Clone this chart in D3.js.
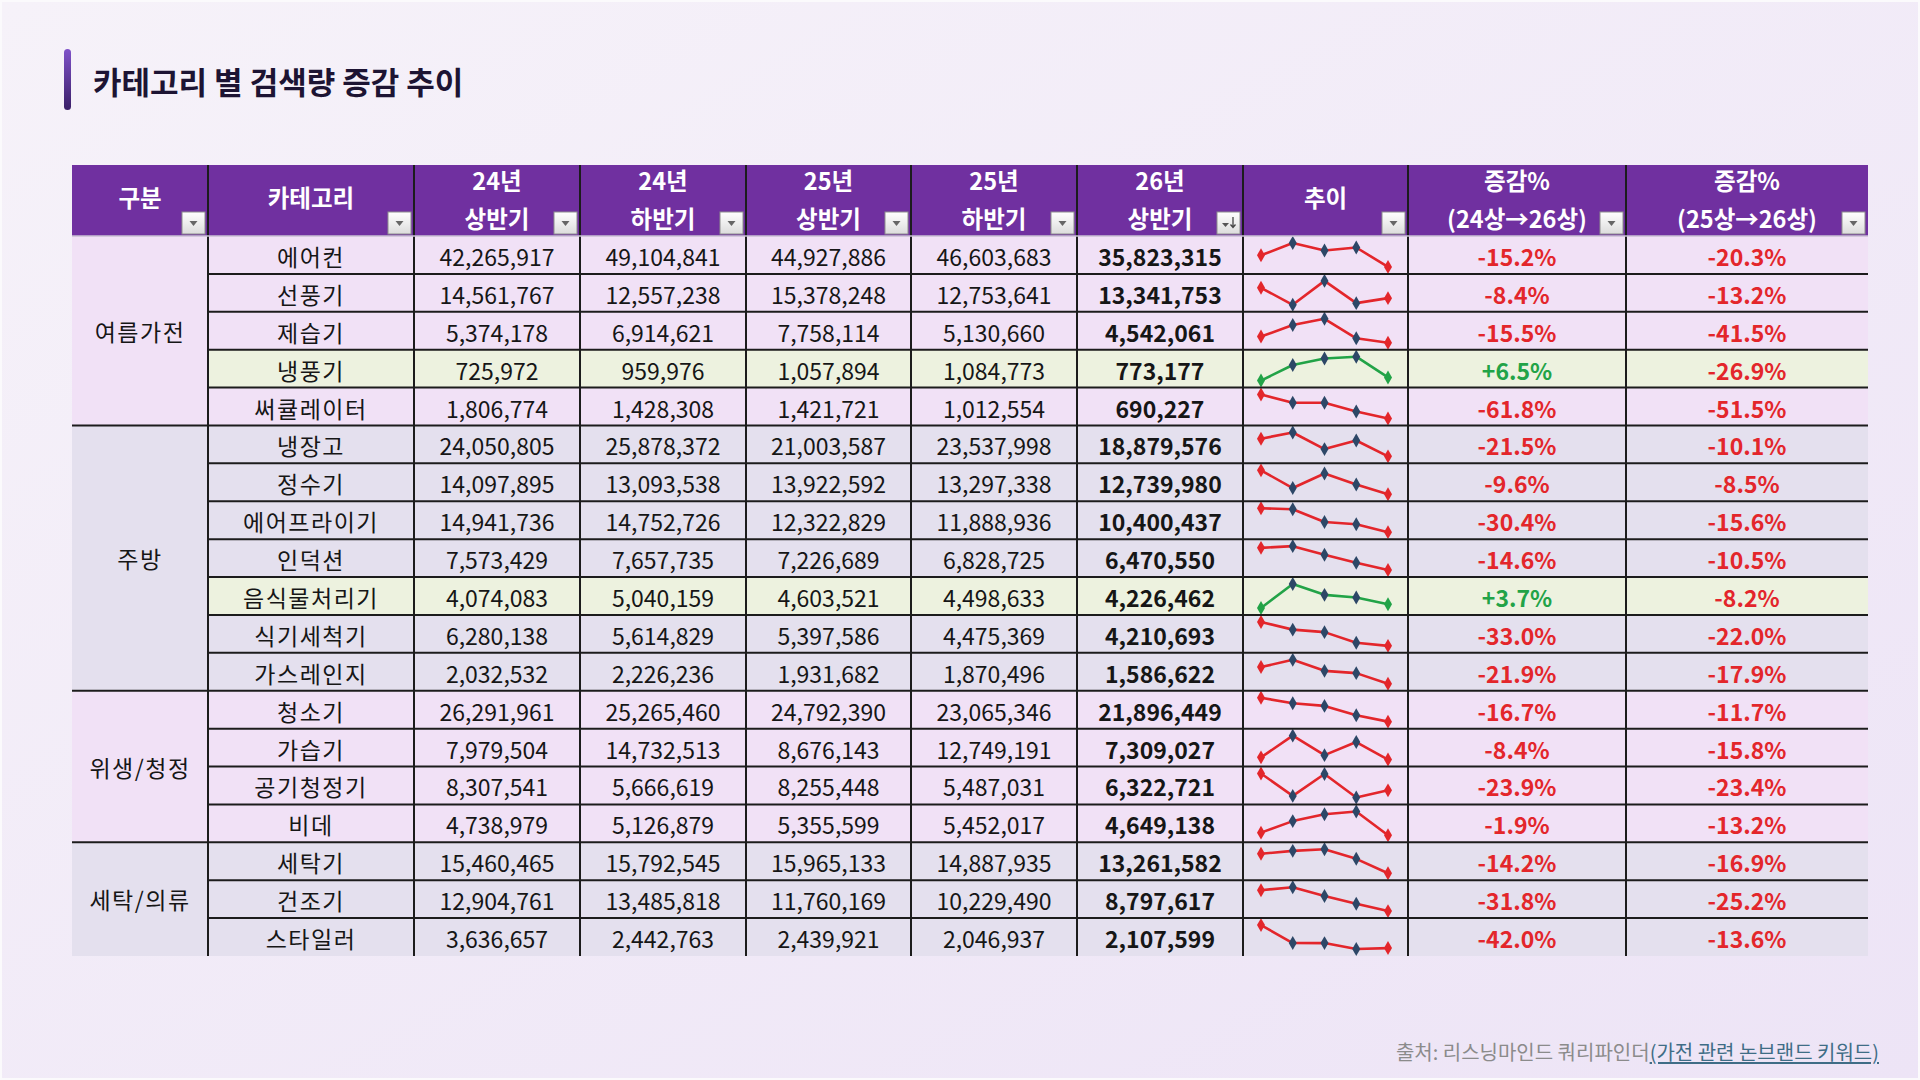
<!DOCTYPE html>
<html>
<head>
<meta charset="utf-8">
<script src="https://cdn.jsdelivr.net/npm/d3@7"></script>
<style>
  html, body { margin: 0; padding: 0; background: #f3eef8; }
  svg { display: block; font-family: "Noto Sans CJK KR", "Noto Sans", sans-serif; }
</style>
</head>
<body>
<svg id="chart" width="1920" height="1080"></svg>
<script>
// data
const groupNames = ['여름가전', '주방', '위생/청정', '세탁/의류'];
const groupOfRow = [
  '여름가전', '여름가전', '여름가전', '여름가전', '여름가전',
  '주방', '주방', '주방', '주방', '주방', '주방', '주방',
  '위생/청정', '위생/청정', '위생/청정', '위생/청정',
  '세탁/의류', '세탁/의류', '세탁/의류'
];
const categories = [
  '에어컨', '선풍기', '제습기', '냉풍기', '써큘레이터',
  '냉장고', '정수기', '에어프라이기', '인덕션', '음식물처리기', '식기세척기', '가스레인지',
  '청소기', '가습기', '공기청정기', '비데',
  '세탁기', '건조기', '스타일러'
];
const h24a = [42265917, 14561767, 5374178, 725972, 1806774, 24050805, 14097895, 14941736, 7573429, 4074083, 6280138, 2032532, 26291961, 7979504, 8307541, 4738979, 15460465, 12904761, 3636657];
const h24b = [49104841, 12557238, 6914621, 959976, 1428308, 25878372, 13093538, 14752726, 7657735, 5040159, 5614829, 2226236, 25265460, 14732513, 5666619, 5126879, 15792545, 13485818, 2442763];
const h25a = [44927886, 15378248, 7758114, 1057894, 1421721, 21003587, 13922592, 12322829, 7226689, 4603521, 5397586, 1931682, 24792390, 8676143, 8255448, 5355599, 15965133, 11760169, 2439921];
const h25b = [46603683, 12753641, 5130660, 1084773, 1012554, 23537998, 13297338, 11888936, 6828725, 4498633, 4475369, 1870496, 23065346, 12749191, 5487031, 5452017, 14887935, 10229490, 2046937];
const h26a = [35823315, 13341753, 4542061, 773177, 690227, 18879576, 12739980, 10400437, 6470550, 4226462, 4210693, 1586622, 21896449, 7309027, 6322721, 4649138, 13261582, 8797617, 2107599];
const chg24 = [-15.2, -8.4, -15.5, 6.5, -61.8, -21.5, -9.6, -30.4, -14.6, 3.7, -33.0, -21.9, -16.7, -8.4, -23.9, -1.9, -14.2, -31.8, -42.0];
const chg25 = [-20.3, -13.2, -41.5, -26.9, -51.5, -10.1, -8.5, -15.6, -10.5, -8.2, -22.0, -17.9, -11.7, -15.8, -23.4, -13.2, -16.9, -25.2, -13.6];
const headers = [
  ['구분'], ['카테고리'], ['24년', '상반기'], ['24년', '하반기'], ['25년', '상반기'],
  ['25년', '하반기'], ['26년', '상반기'], ['추이'], ['증감%', '(24상→26상)'], ['증감%', '(25상→26상)']
];
const title = '카테고리 별 검색량 증감 추이';

// layout
const colEdges = [72, 208, 414, 580, 746, 911, 1077, 1243, 1408, 1626, 1868];
const headTop = 165, headBottom = 236, bodyBottom = 956;
const fontSize = 23;
const colours = {
  head: '#7030a0', pink: '#f1e1f6', grey: '#e4e0ee', green: '#edf2df',
  line: '#1c1c1c', text: '#161616', red: '#e3262b', up: '#22a347', marker: '#2d4767'
};

const svg = d3.select('#chart');
const defs = svg.append('defs');

const bg = defs.append('linearGradient').attr('id', 'bg')
  .attr('x1', 0).attr('y1', 0).attr('x2', 1).attr('y2', 1);
bg.append('stop').attr('offset', 0).attr('stop-color', '#f6f2f9');
bg.append('stop').attr('offset', 1).attr('stop-color', '#ede4f6');

const accent = defs.append('linearGradient').attr('id', 'accent')
  .attr('x1', 0).attr('y1', 0).attr('x2', 0).attr('y2', 1);
accent.append('stop').attr('offset', 0).attr('stop-color', '#7f52c9');
accent.append('stop').attr('offset', 1).attr('stop-color', '#3a1f68');

const btn = defs.append('linearGradient').attr('id', 'btn')
  .attr('x1', 0).attr('y1', 0).attr('x2', 0).attr('y2', 1);
btn.append('stop').attr('offset', 0).attr('stop-color', '#ffffff');
btn.append('stop').attr('offset', 1).attr('stop-color', '#dcdcdc');

svg.append('rect').attr('width', 1920).attr('height', 1080).attr('fill', '#fbfafc');
svg.append('rect').attr('x', 2).attr('y', 2).attr('width', 1916).attr('height', 1076).attr('fill', 'url(#bg)');

// title
svg.append('rect').attr('x', 64).attr('y', 49).attr('width', 7).attr('height', 61)
  .attr('rx', 3.5).attr('fill', 'url(#accent)');
svg.append('text').attr('x', 93).attr('y', 80)
  .attr('dominant-baseline', 'central')
  .attr('font-size', 31).attr('font-weight', 700).attr('fill', '#1d1433')
  .text(title);

// scales
const y = d3.scaleBand().domain(d3.range(categories.length)).range([headBottom, bodyBottom]);
const colMid = i => (colEdges[i] + colEdges[i + 1]) / 2;
const groupColour = g => groupNames.indexOf(g) % 2 === 0 ? colours.pink : colours.grey;
const fmt = d3.format(',');
const fmtPct = d => (d > 0 ? '+' : '') + d.toFixed(1) + '%';

// header
const head = svg.append('g');
head.append('rect').attr('x', colEdges[0]).attr('y', headTop)
  .attr('width', colEdges[colEdges.length - 1] - colEdges[0]).attr('height', headBottom - headTop)
  .attr('fill', colours.head);

headers.forEach((lines, i) => {
  const t = head.append('text').attr('text-anchor', 'middle')
    .attr('fill', '#fff').attr('font-size', 23.5).attr('font-weight', 700);
  if (lines.length === 1) {
    t.append('tspan').attr('x', colMid(i)).attr('y', 197)
      .attr('dominant-baseline', 'central').text(lines[0]);
  } else {
    t.append('tspan').attr('x', colMid(i)).attr('y', 180)
      .attr('dominant-baseline', 'central').text(lines[0]);
    t.append('tspan').attr('x', colMid(i)).attr('y', 218)
      .attr('dominant-baseline', 'central').text(lines[1]);
  }
  // filter button
  const bx = colEdges[i + 1] - 26, by = 212;
  const b = head.append('g').attr('transform', `translate(${bx},${by})`);
  b.append('rect').attr('width', 23).attr('height', 22)
    .attr('fill', 'url(#btn)').attr('stroke', '#8e8e8e').attr('stroke-width', 1);
  if (i === 6) {
    b.append('path').attr('d', 'M5,11 L12,11 L8.5,15 Z').attr('fill', '#555');
    b.append('path').attr('d', 'M16,5 L16,15 M13.5,12.5 L16,15.5 L18.5,12.5')
      .attr('stroke', '#444').attr('stroke-width', 1.3).attr('fill', 'none');
  } else {
    b.append('path').attr('d', 'M7.5,9 L15.5,9 L11.5,14 Z').attr('fill', '#666');
  }
});

// body cells
const body = svg.append('g');
const rows = body.selectAll('g.row').data(categories).join('g').attr('class', 'row');

rows.append('rect')
  .attr('x', colEdges[1]).attr('y', (d, i) => y(i))
  .attr('width', colEdges[colEdges.length - 1] - colEdges[1]).attr('height', y.bandwidth())
  .attr('fill', (d, i) => chg24[i] > 0 ? colours.green : groupColour(groupOfRow[i]));

// group column
groupNames.forEach(g => {
  const idx = d3.range(categories.length).filter(i => groupOfRow[i] === g);
  const top = y(idx[0]), bottom = y(idx[idx.length - 1]) + y.bandwidth();
  body.append('rect').attr('x', colEdges[0]).attr('y', top)
    .attr('width', colEdges[1] - colEdges[0]).attr('height', bottom - top)
    .attr('fill', groupColour(g));
  body.append('text').attr('x', colMid(0)).attr('y', (top + bottom) / 2)
    .attr('text-anchor', 'middle').attr('dominant-baseline', 'central')
    .attr('font-size', fontSize).attr('letter-spacing', 1.5)
    .attr('fill', colours.text).text(g);
});

const cellText = (col, accessor, opts = {}) => {
  rows.append('text')
    .attr('x', colMid(col)).attr('y', (d, i) => y(i) + y.bandwidth() / 2 + 1)
    .attr('text-anchor', 'middle').attr('dominant-baseline', 'central')
    .attr('font-size', fontSize)
    .attr('font-weight', opts.bold ? 700 : 400)
    .attr('letter-spacing', opts.spacing || 0)
    .attr('fill', opts.fill || colours.text)
    .text(accessor);
};

cellText(1, d => d, { spacing: 1.5 });
[h24a, h24b, h25a, h25b].forEach((arr, k) => cellText(2 + k, (d, i) => fmt(arr[i])));
cellText(6, (d, i) => fmt(h26a[i]), { bold: true });
rows.append('text')
  .attr('x', colMid(8)).attr('y', (d, i) => y(i) + y.bandwidth() / 2 + 1)
  .attr('text-anchor', 'middle').attr('dominant-baseline', 'central')
  .attr('font-size', fontSize).attr('font-weight', 700)
  .attr('fill', (d, i) => chg24[i] > 0 ? colours.up : colours.red)
  .text((d, i) => fmtPct(chg24[i]));
rows.append('text')
  .attr('x', colMid(9)).attr('y', (d, i) => y(i) + y.bandwidth() / 2 + 1)
  .attr('text-anchor', 'middle').attr('dominant-baseline', 'central')
  .attr('font-size', fontSize).attr('font-weight', 700)
  .attr('fill', (d, i) => chg25[i] > 0 ? colours.up : colours.red)
  .text((d, i) => fmtPct(chg25[i]));

// sparklines
const sx = d3.scaleLinear().domain([0, 4]).range([colEdges[7] + 18, colEdges[8] - 20]);
const diamond = d3.symbol().type(d3.symbolDiamond).size(56);
rows.each(function (d, i) {
  const vals = [h24a[i], h24b[i], h25a[i], h25b[i], h26a[i]];
  const sy = d3.scaleLinear().domain(d3.extent(vals))
    .range([y(i) + y.bandwidth() - 7, y(i) + 7]);
  const lineColour = chg24[i] > 0 ? colours.up : colours.red;
  const g = d3.select(this).append('g');
  g.append('path')
    .attr('d', d3.line().x((v, k) => sx(k)).y(v => sy(v))(vals))
    .attr('fill', 'none').attr('stroke', lineColour).attr('stroke-width', 2.6)
    .attr('stroke-linejoin', 'round');
  g.selectAll('path.mk').data(vals).join('path').attr('class', 'mk')
    .attr('d', diamond)
    .attr('transform', (v, k) => `translate(${sx(k)},${sy(v)})`)
    .attr('fill', (v, k) => (k === 0 || k === vals.length - 1) ? lineColour : colours.marker);
});

// grid lines
const grid = svg.append('g').attr('stroke', colours.line).attr('stroke-width', 2);
d3.range(1, categories.length).forEach(i => {
  const groupStart = groupOfRow[i] !== groupOfRow[i - 1];
  grid.append('line')
    .attr('x1', groupStart ? colEdges[0] : colEdges[1]).attr('x2', colEdges[colEdges.length - 1])
    .attr('y1', y(i)).attr('y2', y(i));
});
colEdges.slice(1, -1).forEach(x => {
  grid.append('line').attr('x1', x).attr('x2', x).attr('y1', headTop).attr('y2', bodyBottom);
});
svg.append('line').attr('x1', colEdges[0]).attr('x2', colEdges[colEdges.length - 1])
  .attr('y1', headBottom).attr('y2', headBottom)
  .attr('stroke', '#c9bfd3').attr('stroke-width', 1.5);

// source note
const note = svg.append('text').attr('x', 1879).attr('y', 1051)
  .attr('text-anchor', 'end').attr('dominant-baseline', 'central').attr('font-size', 20);
note.append('tspan').attr('fill', '#8b8b8b').text('출처: 리스닝마인드 쿼리파인더');
note.append('tspan').attr('fill', '#3f6d86').attr('text-decoration', 'underline')
  .text('(가전 관련 논브랜드 키워드)');
</script>
</body>
</html>
